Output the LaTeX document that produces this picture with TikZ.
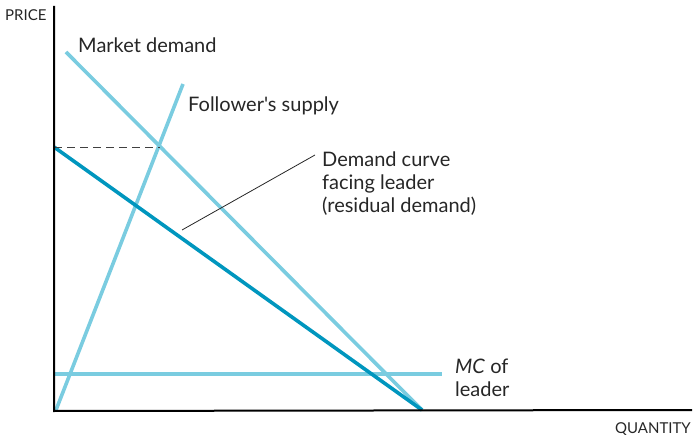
\documentclass[tikz,border=0pt]{standalone}
\usepackage{fontspec}
\newfontfamily\lato{Lato}
\begin{document}
\begin{tikzpicture}[x=1pt,y=-1pt,
  lightc/.style={draw=curveLight,line width=3.6pt},
  darkc/.style={draw=curveDark,line width=3.6pt},
  axisline/.style={draw=black,line width=2pt},
  lbl/.style={font=\lato\fontsize{20}{23}\selectfont,inner sep=0pt,anchor=base west,text=black!85},
  axlbl/.style={font=\lato\fontsize{15}{17}\selectfont,inner sep=0pt,text=black!85}]
\definecolor{curveLight}{RGB}{122,204,224}
\definecolor{curveDark}{RGB}{0,150,190}
\useasboundingbox (0,0) rectangle (693,435);
% coordinates
\coordinate (O) at (54,410);
\coordinate (ytop) at (54,6);
\coordinate (xend) at (692,410);
\coordinate (mdA) at (66,52);
\coordinate (mdB) at (422,410);
\coordinate (fsA) at (56,410);
\coordinate (fsB) at (183,84);
\coordinate (rdA) at (54,147);
\coordinate (rdB) at (422,410);
\coordinate (mcA) at (54,374);
\coordinate (mcB) at (442,374);
\coordinate (eq) at (160,147);
\coordinate (ptr) at (182,230);
\coordinate (ptrEnd) at (315,155);
% curves
\draw[lightc] (mcA) -- (mcB);
\draw[lightc] (mdA) -- (mdB);
\draw[lightc] (fsA) -- (fsB);
\draw[darkc] (rdA) -- (rdB);
\draw[dashed,dash pattern=on 8pt off 5pt,line width=0.8pt,black!75] (rdA) -- (eq);
\draw[line width=0.8pt,black!85] (ptr) -- (ptrEnd);
% axes
\draw[axisline] (ytop) -- (54,411) -- (xend);
% labels
\node[axlbl,anchor=base west] (price) at (5,21) {PRICE};
\node[axlbl,anchor=base east] (qty) at (691,433) {QUANTITY};
\node[lbl] (mdl) at (78,53) {Market demand};
\node[lbl] (fsl) at (188,112) {Follower's supply};
\node[lbl,align=left,anchor=north west] (rdl) at (322,152) {Demand curve\\facing leader\\(residual demand)};
\node[lbl,align=left,anchor=north west] (mcl) at (455,359) {\textit{MC} of\\leader};
\end{tikzpicture}
\end{document}
